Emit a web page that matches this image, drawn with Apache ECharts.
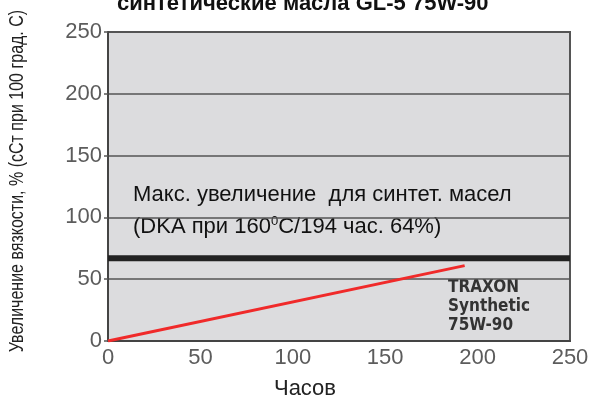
<!DOCTYPE html>
<html><head><meta charset="utf-8">
<script src="https://cdn.jsdelivr.net/npm/echarts@6/dist/echarts.min.js"></script>
<style>html,body{margin:0;padding:0;background:#fff}#c{width:593px;height:401px}</style>
</head><body><div id="c"></div>
<script>
var titleText = 'синтетические масла GL-5 75W-90';
var yAxisTitle = 'Увеличение вязкости, % (сСт при 100 град. С)';
var xAxisTitle = 'Часов';
var xTicks = [0, 50, 100, 150, 200, 250];
var yTicks = [0, 50, 100, 150, 200, 250];
var traxonX = [0, 193];
var traxonY = [0, 61];
var limitX = [0, 250];
var limitY = [67, 67];

var chart = echarts.init(document.getElementById('c'));
var font = 'Liberation Sans, Arial, sans-serif';
chart.setOption({
  backgroundColor: '#fff',
  animation: false,
  title: {
    text: titleText, left: 112, top: -12,
    textStyle: {fontFamily: font, fontWeight: 'bold', fontSize: 22, color: '#111'}
  },
  grid: {left: 108, right: 23, top: 32, bottom: 60, show: true, backgroundColor: '#dcdcde', borderColor: '#555', borderWidth: 2},
  xAxis: {
    type: 'value', min: xTicks[0], max: xTicks[xTicks.length - 1], interval: xTicks[1] - xTicks[0],
    axisLine: {show: true, lineStyle: {color: '#444', width: 2}},
    axisTick: {show: false},
    splitLine: {show: false},
    axisLabel: {fontFamily: font, fontSize: 22, color: '#5c5c5c', margin: 6}
  },
  yAxis: {
    type: 'value', min: yTicks[0], max: yTicks[yTicks.length - 1], interval: yTicks[1] - yTicks[0],
    axisLine: {show: true, lineStyle: {color: '#444', width: 2}},
    axisTick: {show: true, length: 4, lineStyle: {color: '#555', width: 1.5}},
    splitLine: {show: true, lineStyle: {color: '#555', width: 1.5}},
    axisLabel: {fontFamily: font, fontSize: 22, color: '#5c5c5c', margin: 6}
  },
  series: [
    {type: 'line', data: limitX.map(function(x, i){return [x, limitY[i]];}), symbol: 'none',
     lineStyle: {color: '#222', width: 6}, z: 3},
    {type: 'line', data: traxonX.map(function(x, i){return [x, traxonY[i]];}), symbol: 'none',
     lineStyle: {color: '#f02a2a', width: 3}, z: 4}
  ],
  graphic: [
    {type: 'text', x: 17, y: 181, rotation: Math.PI / 2, scaleX: 0.8,
     style: {text: yAxisTitle, font: '20px Liberation Sans, Arial, sans-serif', fill: '#222', align: 'center', verticalAlign: 'middle'}},
    {type: 'text', x: 305, y: 378, style: {text: xAxisTitle, font: '22px Liberation Sans, Arial, sans-serif', fill: '#222', align: 'center', verticalAlign: 'top'}},
    {type: 'text', left: 133, top: 184, style: {text: 'Макс. увеличение  для синтет. масел', font: '22px Liberation Sans, Arial, sans-serif', fill: '#111'}},
    {type: 'text', left: 133, top: 215, style: {
      text: '(DKA при 160{s|0}C/194 час. 64%)', font: '22px Liberation Sans, Arial, sans-serif', fill: '#111',
      rich: {s: {fontSize: 13, verticalAlign: 'top', fill: '#111', padding: [0,0,10,0], fontFamily: 'Liberation Sans'}}
    }},
    {type: 'text', left: 448, top: 278, style: {
      text: 'TRAXON\nSynthetic\n75W-90', font: 'bold 17px DejaVu Sans Condensed, DejaVu Sans, sans-serif', fill: '#333', lineHeight: 19
    }}
  ]
});
</script></body></html>
